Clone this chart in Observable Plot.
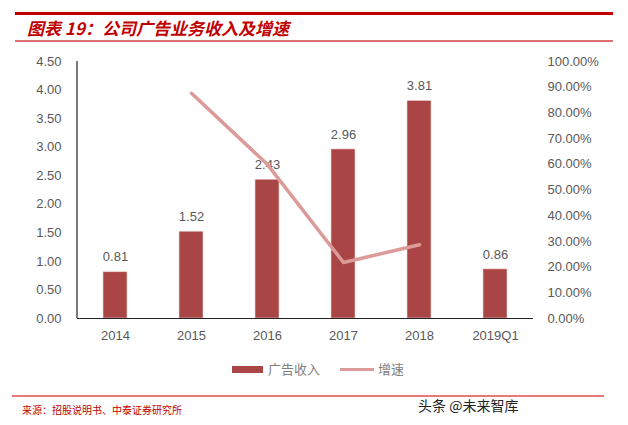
<!DOCTYPE html>
<html><head><meta charset="utf-8">
<script src="https://cdn.jsdelivr.net/npm/d3@7"></script>
<script src="https://cdn.jsdelivr.net/npm/@observablehq/plot@0.6"></script>
<style>
body{margin:0;width:628px;height:425px;position:relative;background:#fff;overflow:hidden;font-family:"Liberation Sans",sans-serif;}
.abs{position:absolute;}
#title{left:27px;top:17px;font-family:"Noto Sans CJK SC",sans-serif;font-size:17px;font-weight:bold;font-style:italic;color:#c00000;white-space:nowrap;line-height:22px;}
#chart{left:0;top:48px;}
.leg{font-family:"Noto Sans CJK SC",sans-serif;font-size:13px;color:#7f7f7f;line-height:16px;}
</style></head>
<body>
<div class="abs" style="left:15px;top:12px;width:598px;height:3px;background:#c00000"></div>
<div id="title" class="abs">图表 19：公司广告业务收入及增速</div>
<div class="abs" style="left:15px;top:40px;width:598px;height:2px;background:#e07070"></div>
<div id="chart" class="abs"></div>
<div class="abs" style="left:232px;top:366px;width:31px;height:7px;background:#a94544"></div>
<div class="abs leg" style="left:268px;top:361px">广告收入</div>
<div class="abs" style="left:340px;top:368px;width:34px;height:3px;background:#dc9a98"></div>
<div class="abs leg" style="left:378px;top:361px">增速</div>
<div class="abs" style="left:12px;top:395px;width:592px;height:2px;background:#e87878"></div>
<div class="abs" style="left:22px;top:403px;font-family:'Noto Sans CJK SC',sans-serif;font-size:10px;color:#c00000;line-height:13px;white-space:nowrap">来源：招股说明书、中泰证券研究所</div>
<div class="abs" style="left:418px;top:397px;font-family:'Noto Sans CJK SC',sans-serif;font-size:14px;color:#222;line-height:17px;white-space:nowrap">头条 @未来智库</div>
<script>
const years = ["2014","2015","2016","2017","2018","2019Q1"];
const revenue = [0.81, 1.52, 2.43, 2.96, 3.81, 0.86];
const growthYears = ["2015","2016","2017","2018"];
const growth = [0.8765, 0.599, 0.218, 0.287];
const leftTicks = [0,0.5,1,1.5,2,2.5,3,3.5,4,4.5];
const rightTicks = [0,0.1,0.2,0.3,0.4,0.5,0.6,0.7,0.8,0.9,1.0];

const yMax = 4.5;
const bars = years.map((y,i)=>({year:y, value:revenue[i]}));
const line = growthYears.map((y,i)=>({year:y, g:growth[i], v:growth[i]*yMax}));

const chart = Plot.plot({
  width: 628, height: 300,
  marginTop: 13, marginBottom: 30, marginLeft: 77, marginRight: 95,
  style: {fontFamily: "Liberation Sans, sans-serif", fontSize: "13px", color: "#595959", background: "transparent"},
  x: {domain: years, paddingInner: 0.69, paddingOuter: 0.345, label: null},
  y: {domain: [0, yMax], label: null},
  marks: [
    Plot.barY(bars, {x: "year", y: "value", fill: "#a94544", stroke: "#f2d5d5", strokeWidth: 0.6}),
    Plot.text(bars, {x: "year", y: "value", text: d => d.value.toFixed(2), dy: -15, fill: "#595959", fontSize: 13}),
    Plot.line(line, {x: "year", y: "v", stroke: "#dc9a98", strokeWidth: 3.5}),
    Plot.axisY({ticks: leftTicks, tickFormat: d => d.toFixed(2), tickSize: 0, tickPadding: 16, label: null, fill: "#595959"}),
    Plot.axisY({anchor: "right", ticks: rightTicks.map(t => t*yMax), tickFormat: d => (d/yMax*100).toFixed(2) + "%", tickSize: 0, tickPadding: 14, label: null, fill: "#595959"}),
    Plot.axisX({tickSize: 0, tickPadding: 12, label: null, fill: "#595959"}),
    Plot.ruleY([0], {stroke: "#222", strokeWidth: 1.2})
  ]
});
// left value-axis line, placed from the plot's own scales
const xs = chart.scale("x"), ys = chart.scale("y");
d3.select(chart).append("line")
  .attr("x1", xs.range[0]).attr("x2", xs.range[0])
  .attr("y1", ys.apply(0)).attr("y2", ys.apply(yMax))
  .attr("stroke", "#222").attr("stroke-width", 1.2);
document.getElementById("chart").appendChild(chart);
</script>
</body></html>
